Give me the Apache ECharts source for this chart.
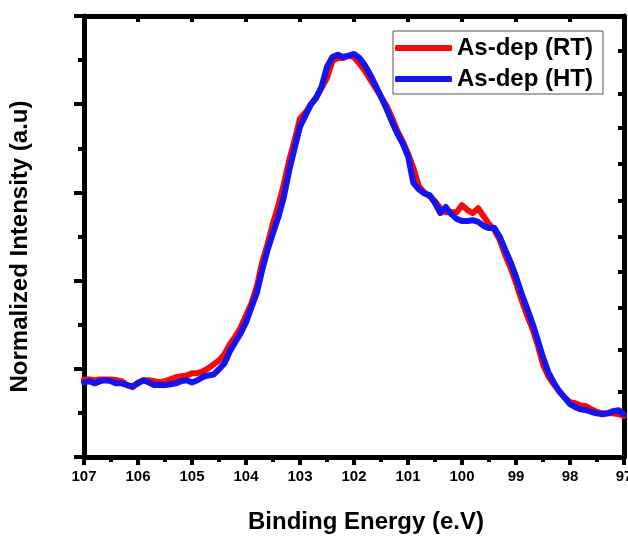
<!DOCTYPE html>
<html>
<head>
<meta charset="utf-8">
<script src="https://cdn.jsdelivr.net/npm/echarts@6/dist/echarts.min.js"></script>
<style>html,body{margin:0;padding:0;background:#fff;}#chart{width:628px;height:540px;}</style>
</head>
<body>
<div id="chart"></div>
<script>
const energy = [107.0,106.9,106.8,106.7,106.6,106.5,106.4,106.3,106.2,106.1,
106.0,105.9,105.8,105.7,105.6,105.5,105.4,105.3,105.2,105.1,
105.0,104.9,104.8,104.7,104.6,104.5,104.4,104.3,104.2,104.1,
104.0,103.9,103.8,103.7,103.6,103.5,103.4,103.3,103.2,103.1,
103.0,102.9,102.8,102.7,102.6,102.5,102.4,102.3,102.2,102.1,
102.0,101.9,101.8,101.7,101.6,101.5,101.4,101.3,101.2,101.1,
101.0,100.9,100.8,100.7,100.6,100.5,100.4,100.3,100.2,100.1,
100.0,99.9,99.8,99.7,99.6,99.5,99.4,99.3,99.2,99.1,
99.0,98.9,98.8,98.7,98.6,98.5,98.4,98.3,98.2,98.1,
98.0,97.9,97.8,97.7,97.6,97.5,97.4,97.3,97.2,97.1,
97.0];

const rtValues = [0.176,0.176,0.174,0.176,0.176,0.176,0.174,0.172,0.163,0.158,
0.169,0.174,0.174,0.172,0.169,0.172,0.176,0.181,0.183,0.185,
0.190,0.190,0.194,0.201,0.210,0.219,0.233,0.255,0.273,0.293,
0.321,0.348,0.386,0.442,0.483,0.530,0.571,0.618,0.673,0.718,
0.767,0.781,0.799,0.815,0.837,0.860,0.898,0.905,0.905,0.910,
0.907,0.892,0.876,0.856,0.837,0.817,0.797,0.770,0.740,0.716,
0.688,0.655,0.614,0.600,0.591,0.580,0.564,0.555,0.555,0.555,
0.571,0.560,0.553,0.564,0.546,0.528,0.515,0.492,0.458,0.429,
0.395,0.357,0.323,0.293,0.255,0.210,0.183,0.165,0.149,0.135,
0.124,0.122,0.117,0.115,0.108,0.102,0.099,0.099,0.099,0.097,
0.093];

const htValues = [0.169,0.172,0.167,0.172,0.174,0.172,0.167,0.167,0.163,0.160,
0.167,0.174,0.169,0.163,0.163,0.163,0.165,0.167,0.172,0.174,
0.169,0.174,0.181,0.185,0.187,0.199,0.212,0.239,0.260,0.280,
0.305,0.339,0.372,0.424,0.470,0.508,0.544,0.589,0.650,0.700,
0.749,0.774,0.799,0.815,0.840,0.885,0.907,0.912,0.907,0.910,
0.914,0.905,0.889,0.867,0.842,0.817,0.790,0.761,0.734,0.711,
0.682,0.621,0.607,0.598,0.594,0.576,0.553,0.567,0.551,0.540,
0.535,0.535,0.537,0.533,0.524,0.519,0.519,0.499,0.470,0.442,
0.409,0.372,0.339,0.305,0.266,0.226,0.192,0.169,0.149,0.135,
0.120,0.113,0.108,0.106,0.102,0.099,0.097,0.099,0.104,0.106,
0.097];

const seriesNames = ['As-dep (RT)', 'As-dep (HT)'];
const rightTickValues = [0.147,0.244,0.339,0.420,0.499,0.582,0.666,0.747,0.824,0.921];

const FONT = '"Liberation Sans", Arial, sans-serif';
const axisLine = {show: true, onZero: false, lineStyle: {color: '#000', width: 5}};

const chart = echarts.init(document.getElementById('chart'), null, {renderer: 'canvas'});
chart.setOption({
  animation: false,
  backgroundColor: '#fff',
  grid: {left: 84, right: 4, top: 16, bottom: 83, containLabel: false, outerBoundsMode: 'none'},
  legend: {
    data: seriesNames,
    orient: 'vertical',
    left: 393, top: 31,
    padding: [5, 10, 3, 2],
    itemGap: 7,
    icon: 'roundRect',
    itemWidth: 57, itemHeight: 6,
    borderColor: '#555', borderWidth: 1,
    textStyle: {fontFamily: FONT, fontWeight: 'bold', fontSize: 24, color: '#000'}
  },
  xAxis: [{
    type: 'value', min: 97, max: 107, interval: 1, inverse: true,
    position: 'bottom',
    name: 'Binding Energy (e.V)', nameLocation: 'middle', nameGap: 53,
    nameTextStyle: {fontFamily: FONT, fontWeight: 'bold', fontSize: 24, color: '#000', padding: [0, 0, 0, 24]},
    axisLine: axisLine,
    axisTick: {show: true, inside: false, length: 8, lineStyle: {color: '#000', width: 4}},
    minorTick: {show: true, splitNumber: 2, length: 5, lineStyle: {color: '#000', width: 4}},
    axisLabel: {margin: 12, fontFamily: FONT, fontWeight: 'bold', fontSize: 15, color: '#000'},
    splitLine: {show: false}
  }, {
    type: 'value', min: 97, max: 107, interval: 1, inverse: true,
    position: 'top',
    axisLine: axisLine,
    axisTick: {show: true, inside: true, length: 6, lineStyle: {color: '#000', width: 4}},
    axisLabel: {show: false},
    splitLine: {show: false}
  }],
  yAxis: [{
    type: 'value', min: 0, max: 1, interval: 0.2,
    position: 'left',
    name: 'Normalized Intensity (a.u)', nameLocation: 'middle', nameGap: 52,
    nameTextStyle: {fontFamily: FONT, fontWeight: 'bold', fontSize: 24, color: '#000', padding: [0, 20, 0, 0]},
    axisLine: axisLine,
    axisTick: {show: true, inside: false, length: 10, lineStyle: {color: '#000', width: 4}},
    minorTick: {show: true, splitNumber: 2, length: 6, lineStyle: {color: '#000', width: 4}},
    axisLabel: {show: false},
    splitLine: {show: false}
  }, {
    type: 'value', min: 0, max: 1,
    position: 'right',
    axisLine: axisLine,
    axisTick: {show: true, inside: true, length: 6, customValues: rightTickValues, lineStyle: {color: '#000', width: 4}},
    axisLabel: {show: false},
    splitLine: {show: false}
  }],
  series: [{
    name: seriesNames[0], type: 'line', xAxisIndex: 0, yAxisIndex: 0,
    data: energy.map((e, i) => [e, rtValues[i]]),
    symbol: 'none', showSymbol: false,
    lineStyle: {color: '#f80a0a', width: 6, cap: 'round', join: 'round'},
    itemStyle: {color: '#f80a0a'}
  }, {
    name: seriesNames[1], type: 'line', xAxisIndex: 0, yAxisIndex: 0,
    data: energy.map((e, i) => [e, htValues[i]]),
    symbol: 'none', showSymbol: false,
    lineStyle: {color: '#1414ee', width: 6, cap: 'round', join: 'round'},
    itemStyle: {color: '#1414ee'}
  }]
});
</script>
</body>
</html>
